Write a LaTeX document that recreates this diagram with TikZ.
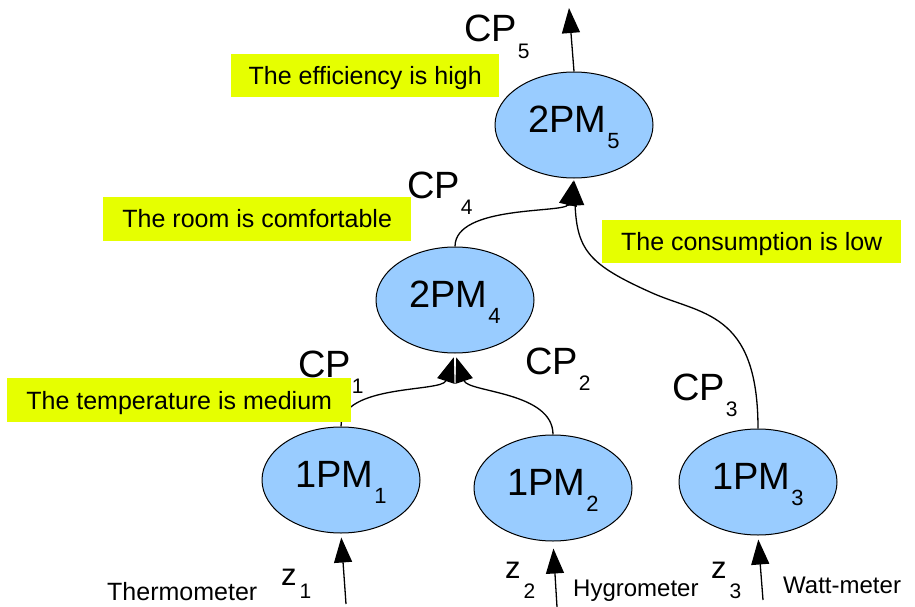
\documentclass[tikz,border=0pt]{standalone}
\usepackage{fontspec}
\setmainfont{Liberation Sans}
\usetikzlibrary{arrows.meta,shapes.geometric}
\definecolor{pmblue}{RGB}{153,204,255}
\definecolor{noteyellow}{RGB}{230,255,0}
\newcommand\fsz[1]{\fontsize{#1pt}{#1pt}\selectfont}
\newcommand\withsub[3]{#1\kern1pt\raisebox{-16.5pt}{\fsz{#3}#2}}
\newcommand\zsub[2]{z\kern3pt\raisebox{-#2pt}{\fsz{21}#1}}
\begin{document}
\begin{tikzpicture}[x=1pt,y=-1pt,
  pm/.style={ellipse, draw=black, line width=1pt, fill=pmblue, minimum width=158pt, minimum height=106pt, inner sep=0pt, text height=31pt, text depth=16.5pt, font=\fsz{38}},
  link/.style={line width=1.3pt, -{Triangle[width=18pt,length=25pt]}},
  note/.style={fill=noteyellow, anchor=north west, inner sep=0pt, font=\fsz{25}},
  cplab/.style={anchor=base west, inner sep=0pt, font=\fsz{38}},
  zlab/.style={anchor=base west, inner sep=0pt, font=\fsz{31}},
  dev/.style={anchor=base west, inner sep=0pt, font=\fsz{24}}]
\useasboundingbox (0,0) rectangle (915,607);

% ellipses
\node[pm] (pm5) at (574,125) {\withsub{2PM}{5}{22}};
\node[pm] (pm4) at (455,300) {\withsub{2PM}{4}{22}};
\node[pm] (pm1) at (341,480) {\withsub{1PM}{1}{22}};
\node[pm] (pm2) at (553,488) {\withsub{1PM}{2}{22}};
\node[pm] (pm3) at (758,482) {\withsub{1PM}{3}{22}};

% free ends
\coordinate (out5) at (569,8);
\coordinate (cp3mid) at (650,292);
\coordinate (in1) at (346,604);
\coordinate (in2) at (557,607);
\coordinate (in3) at (763,600);

% connectors
\draw[link] (pm5.north) -- (out5);
\draw[link, shorten >=2pt] (pm4.north) .. controls +(0,-42) and +(-8,35) .. (pm5.south);
\draw[link, shorten >=2pt] (pm3.north) .. controls +(0,-119) and +(50,23) .. (cp3mid) .. controls +(-60,-27) and +(3,72) .. (pm5.south);
\draw[link, shorten >=4pt] (pm1.north) .. controls +(0,-43) and +(-13,39) .. (pm4.south);
\draw[link, shorten >=4pt] (pm2.north) .. controls +(0,-43) and +(13,39) .. (pm4.south);
\draw[link, shorten >=4pt] (in1) -- (pm1.south);
\draw[link, shorten >=7pt] (in2) -- (pm2.south);
\draw[link, shorten >=4pt] (in3) -- (pm3.south);

% yellow notes
\node[note, minimum width=268pt, text height=30pt, text depth=13pt] (n5) at (231,54) {The efficiency is high};
\node[note, minimum width=308pt, text height=30pt, text depth=14pt] (n4) at (103,197) {The room is comfortable};
\node[note, minimum width=299pt, text height=30pt, text depth=13pt] (n3) at (602,220) {The consumption is low};
\node[note, minimum width=344pt, text height=31pt, text depth=13pt] (n1) at (7,378) {The temperature is medium};

% CP labels
\node[cplab] (cp5) at (464,42) {\withsub{CP}{5}{21}};
\node[cplab] (cp4) at (407,198) {\withsub{CP}{4}{21}};
\node[cplab] (cp1) at (298,377) {\withsub{CP}{1}{21}};
\node[cplab] (cp2) at (525,374) {\withsub{CP}{2}{21}};
\node[cplab] (cp3) at (672,400) {\withsub{CP}{3}{21}};

% z labels
\node[zlab] (z1) at (281,585) {\zsub{1}{13}};
\node[zlab] (z2) at (505,578) {\zsub{2}{20}};
\node[zlab] (z3) at (711,578) {\zsub{3}{20}};

% device labels
\node[dev, font=\fsz{25}] (thermo) at (107,600) {Thermometer};
\node[dev] (hygro) at (573,596) {Hygrometer};
\node[dev] (watt) at (783,593) {Watt-meter};
\end{tikzpicture}
\end{document}
